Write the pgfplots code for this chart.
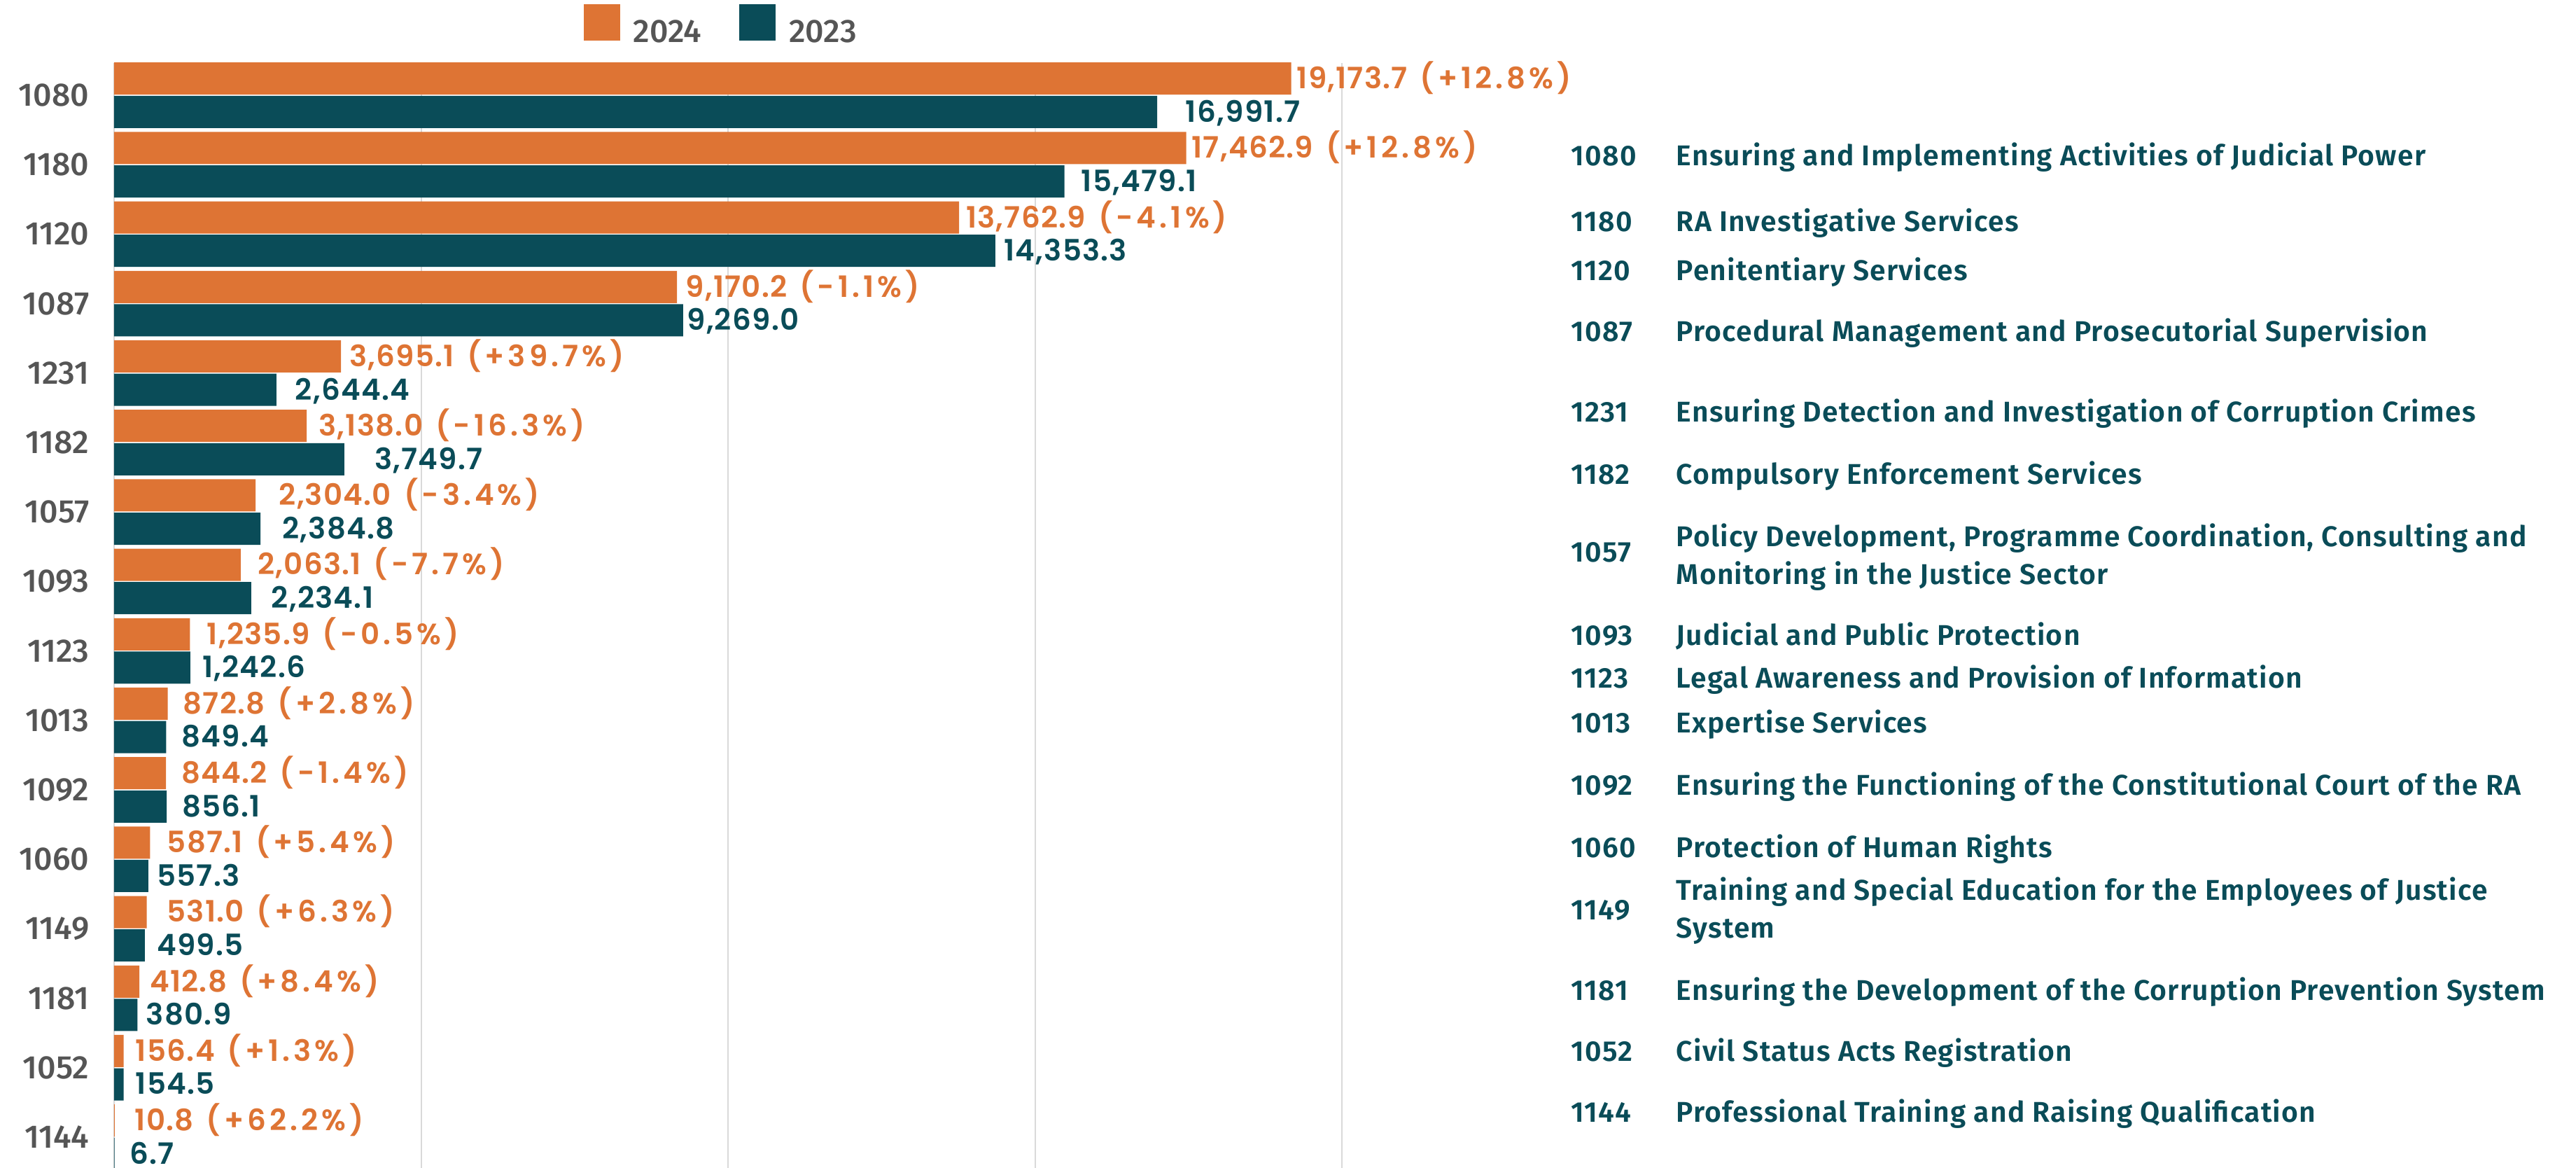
\documentclass[border=0pt]{standalone}
\usepackage{fontspec}
\usepackage{pgfplots}
\usepackage{pgfplotstable}
\pgfplotsset{compat=1.18}
\setmainfont{Fira Sans}
\newfontfamily\semib[LetterSpace=3]{Fira Sans SemiBold}
\newfontfamily\medf{Fira Sans Medium}
\newfontfamily\valf[LetterSpace=3]{Poppins SemiBold}
\newfontfamily\pctf[LetterSpace=12]{Poppins SemiBold}
\newcommand\p[1]{\hspace{4.5pt}{\pctf\fontsize{10.5}{13}\selectfont(#1\%)}}
\definecolor{or}{RGB}{222,116,52}
\definecolor{tl}{RGB}{10,76,88}
\definecolor{gr}{RGB}{85,85,85}
\definecolor{gl}{RGB}{217,217,217}

\pgfplotstableread[col sep=semicolon]{
k;v24;v23;l24;l23;g24;g23
0;19173.7;16991.7;19,173.7\p{+12.8};16,991.7;1.8;10.0
1;17462.9;15479.1;17,462.9\p{+12.8};15,479.1;1.8;5.9
2;13762.9;14353.3;13,762.9\p{-4.1};14,353.3;2.3;2.9
3;9170.2;9269.0;9,170.2\p{-1.1};9,269.0;2.9;1.2
4;3695.1;2644.4;3,695.1\p{+39.7};2,644.4;2.9;6.5
5;3138.0;3749.7;3,138.0\p{-16.3};3,749.7;4.1;10.6
6;2304.0;2384.8;2,304.0\p{-3.4};2,384.8;8.2;7.6
7;2063.1;2234.1;2,063.1\p{-7.7};2,234.1;5.9;7.0
8;1235.9;1242.6;1,235.9\p{-0.5};1,242.6;5.9;4.1
9;872.8;849.4;872.8\p{+2.8};849.4;5.3;5.3
10;844.2;856.1;844.2\p{-1.4};856.1;5.3;5.3
11;587.1;557.3;587.1\p{+5.4};557.3;5.9;2.9
12;531.0;499.5;531.0\p{+6.3};499.5;7.0;4.1
13;412.8;380.9;412.8\p{+8.4};380.9;3.5;2.9
14;156.4;154.5;156.4\p{+1.3};154.5;4.1;4.1
15;10.8;6.7;10.8\p{+62.2};6.7;7.0;5.3
}\tdata

\begin{document}
\begin{tikzpicture}
\begin{axis}[name=ax, scale only axis, width=438.5pt, height=394.5pt,
  xmin=0, xmax=20000, ymin=-0.464, ymax=15.444, y dir=reverse,
  xbar, bar width=11.5pt, bar shift=0pt,
  xtick={0,5000,10000,15000,20000}, xticklabels={},
  xmajorgrids, grid style={gl, line width=0.5pt},
  ytick={0,...,15},
  yticklabels={1080,1180,1120,1087,1231,1182,1057,1093,1123,1013,1092,1060,1149,1181,1052,1144},
  axis line style={draw=none}, major tick length=0pt, tick style={draw=none},
  yticklabel style={font=\medf\fontsize{11.6}{14}\selectfont, text=gr, inner sep=0pt, anchor=east, xshift=-8.75pt},
  clip=false,
  legend columns=2,
  legend style={at={(0.382,1)}, anchor=north west, yshift=21.25pt, draw=none, fill=none, inner sep=0pt,
    font=\medf\fontsize{11.6}{14}\selectfont, text=gr, nodes={inner sep=0pt},
    /tikz/every even column/.append style={column sep=13.5pt},
    /tikz/every odd column/.append style={column sep=4.75pt}},
  legend image code/.code={\fill[#1] (0pt,-2.5pt) rectangle (13pt,10.5pt);},
]
\addlegendimage{fill=or, draw=none}
\addlegendentry{2024}
\addlegendimage{fill=tl, draw=none}
\addlegendentry{2023}
\addplot[forget plot, fill=or, draw=none,
  point meta=explicit symbolic, nodes near coords,
  visualization depends on={\thisrow{g24} \as \gap},
  nodes near coords style={anchor=base west, inner sep=0pt, yshift=-3.6pt, xshift=\gap pt, text=or, font=\valf\fontsize{10.5}{13}\selectfont}]
  table[x=v24, y expr=\thisrow{k}-0.24, meta=l24]{\tdata};
\addplot[forget plot, fill=tl, draw=none,
  point meta=explicit symbolic, nodes near coords,
  visualization depends on={\thisrow{g23} \as \gap},
  nodes near coords style={anchor=base west, inner sep=0pt, yshift=-3.6pt, xshift=\gap pt, text=tl, font=\valf\fontsize{10.5}{13}\selectfont}]
  table[x=v23, y expr=\thisrow{k}+0.24, meta=l23]{\tdata};
\end{axis}
\begin{scope}[every node/.style={anchor=base west, inner sep=0pt, text=tl, font=\semib\fontsize{10.2}{13.5}\selectfont}]
\def\cx{520.25pt}\def\dx{557.75pt}
\foreach \c/\yy/\d in {1080/36.65/Ensuring and Implementing Activities of Judicial Power,
  1180/60.15/RA Investigative Services,
  1120/77.65/Penitentiary Services,
  1087/99.4/Procedural Management and Prosecutorial Supervision,
  1231/128.15/Ensuring Detection and Investigation of Corruption Crimes,
  1182/150.4/Compulsory Enforcement Services,
  1093/207.9/Judicial and Public Protection,
  1123/223.15/Legal Awareness and Provision of Information,
  1013/239.15/Expertise Services,
  1092/261.4/Ensuring the Functioning of the Constitutional Court of the RA,
  1060/283.65/Protection of Human Rights,
  1181/334.65/Ensuring the Development of the Corruption Prevention System,
  1052/356.4/Civil Status Acts Registration,
  1144/378.15/Professional Training and Raising Qualification}{
  \node at ([xshift=\cx,yshift=-\yy pt]ax.north west) {\c};
  \node at ([xshift=\dx,yshift=-\yy pt]ax.north west) {\d};
}
\node at ([xshift=\cx,yshift=-178.15pt]ax.north west) {1057};
\node at ([xshift=\dx,yshift=-172.65pt]ax.north west) {Policy Development, Programme Coordination, Consulting and};
\node at ([xshift=\dx,yshift=-186.15pt]ax.north west) {Monitoring in the Justice Sector};
\node at ([xshift=\cx,yshift=-305.9pt]ax.north west) {1149};
\node at ([xshift=\dx,yshift=-298.9pt]ax.north west) {Training and Special Education for the Employees of Justice};
\node at ([xshift=\dx,yshift=-312.4pt]ax.north west) {System};
\end{scope}
\pgfresetboundingbox
\path[use as bounding box] ([xshift=-40.75pt,yshift=22.5pt]ax.north west) rectangle ([xshift=440.75pt]ax.south east);
\end{tikzpicture}
\end{document}
